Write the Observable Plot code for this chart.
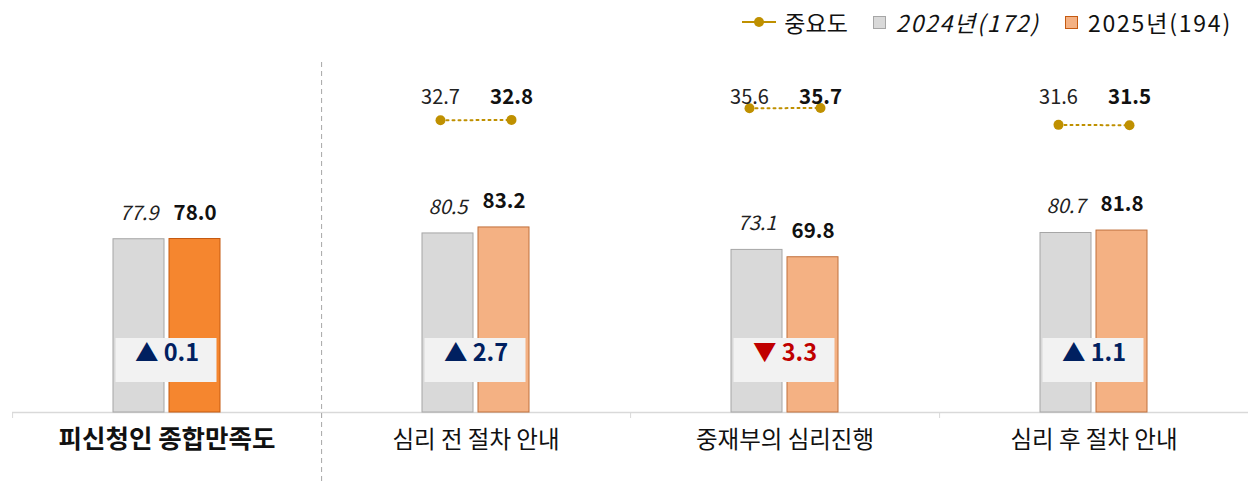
<!DOCTYPE html>
<html><head><meta charset="utf-8">
<script src="https://cdn.jsdelivr.net/npm/d3@7"></script>
<script src="https://cdn.jsdelivr.net/npm/@observablehq/plot@0.6"></script>
<style>
body{margin:0;background:#fff;font-family:"Noto Sans CJK KR","Noto Sans",sans-serif;}
#wrap{position:relative;width:1248px;height:483px;overflow:hidden;}
#legend{position:absolute;top:0;right:16px;height:44px;display:flex;align-items:center;font-size:23px;color:#111;}
.item{display:flex;align-items:center;margin-left:25px;white-space:nowrap}
.num{letter-spacing:1.8px}
.sw{width:13px;height:13px;margin-right:10px;box-sizing:border-box;border:1px solid}
#main,#over{position:absolute;left:0;top:45px;}
#over{pointer-events:none}
</style></head><body>
<div id="wrap"><div id="legend"></div><div id="main"></div><div id="over"></div></div>
<script>
const categories = ["피신청인 종합만족도","심리 전 절차 안내","중재부의 심리진행","심리 후 절차 안내"];
const series = ["2024","2025"];
const legendLabels = ["중요도","2024년(172)","2025년(194)"];
const score2024 = [77.9, 80.5, 73.1, 80.7];
const score2025 = [78.0, 83.2, 69.8, 81.8];
const importance2024 = [null, 32.7, 35.6, 31.6];
const importance2025 = [null, 32.8, 35.7, 31.5];

const FONT = '"Noto Sans CJK KR","Noto Sans",sans-serif';
const GOLD = "#bf9000";

// legend
const lg = document.getElementById("legend");
lg.innerHTML =
  `<div class="item" style="margin-left:0"><svg width="34" height="14" style="margin-right:8px"><line x1="0" x2="34" y1="7" y2="7" stroke="${GOLD}" stroke-width="2"/><circle cx="17" cy="7" r="5" fill="${GOLD}"/></svg>${legendLabels[0]}</div>` +
  `<div class="item"><span class="sw" style="background:#d9d9d9;border-color:#a6a6a6"></span><span class="num" style="font-style:italic">${legendLabels[1]}</span></div>` +
  `<div class="item"><span class="sw" style="background:#f4b183;border-color:#c55a11"></span><span class="num">${legendLabels[2]}</span></div>`;

const W = 1248, H = 438;
const bars = categories.flatMap((c, i) => [
  {cat: c, s: series[0], v: score2024[i], i},
  {cat: c, s: series[1], v: score2025[i], i}
]);
const diffs = categories.map((c, i) => ({cat: c, d: Math.round((score2025[i] - score2024[i]) * 10) / 10}));
const fillFor = d => d.s === series[0] ? "#d9d9d9" : (d.i === 0 ? "#f5862f" : "#f4b183");
const strokeFor = d => d.s === series[0] ? "#a6a6a6" : (d.i === 0 ? "#c55a11" : "#c0703c");

const main = Plot.plot({
  width: W, height: H,
  marginLeft: 12, marginRight: 0, marginTop: 0, marginBottom: 71,
  fx: {domain: categories, padding: 0, axis: null},
  x: {domain: series, paddingInner: 0.09, paddingOuter: 1.8, axis: null},
  y: {domain: [0, 165], axis: null},
  color: {type: "identity"},
  style: {fontFamily: FONT, background: "transparent", overflow: "visible"},
  marks: [
    Plot.ruleY([0], {stroke: "#d9d9d9", strokeWidth: 1.3}),
    Plot.ruleX(categories.map(c => ({cat: c, s: series[0]})), {fx: "cat", x: "s", dx: -126.4, insetTop: 367, insetBottom: -6, stroke: "#d9d9d9"}),
    Plot.ruleX([{cat: categories[0], s: series[1]}], {fx: "cat", x: "s", dx: 126.6, insetTop: 17, insetBottom: -71, stroke: "#a6a6a6", strokeDasharray: "5,4"}),
    Plot.barY(bars, {fx: "cat", x: "s", y: "v", fill: fillFor, stroke: strokeFor, strokeWidth: 1}),
    Plot.text(bars.filter(d => d.s === series[0]), {fx: "cat", x: "s", y: "v", text: d => d.v.toFixed(1), dy: -26, fontSize: 20, fontStyle: "italic", fill: "#222"}),
    Plot.text(bars.filter(d => d.s === series[1]), {fx: "cat", x: "s", y: "v", text: d => d.v.toFixed(1), dy: -26, fontSize: 20.5, fontWeight: "bold", fill: "#111"}),
    Plot.rect(diffs, {fx: "cat", insetLeft: 103.5, insetRight: 104.5, insetTop: 293, insetBottom: 30, fill: "#f2f2f2"}),
    Plot.text(diffs, {fx: "cat", frameAnchor: "bottom", dy: -52, text: d => (d.d >= 0 ? "▲ " : "▼ ") + Math.abs(d.d).toFixed(1), fill: d => d.d >= 0 ? "#002060" : "#c00000", fontSize: 23.5, fontWeight: "bold"}),
    Plot.text([categories[0]], {fx: d => d, frameAnchor: "bottom", dy: 35, text: d => d, fontSize: 25.5, fontWeight: "bold", fill: "#111"}),
    Plot.text(categories.slice(1), {fx: d => d, frameAnchor: "bottom", dy: 35, text: d => d, fontSize: 23.5, fill: "#111"})
  ]
});
document.getElementById("main").appendChild(main);

const imp = categories.flatMap((c, i) => importance2024[i] == null ? [] : [
  {cat: c, s: series[0], v: importance2024[i]},
  {cat: c, s: series[1], v: importance2025[i]}
]);
const over = Plot.plot({
  width: W, height: H,
  marginLeft: 12, marginRight: 0, marginTop: 0, marginBottom: 228,
  fx: {domain: categories, padding: 0, axis: null},
  x: {type: "point", domain: series, padding: 1.676, axis: null},
  y: {domain: [0, 50.8], axis: null},
  style: {fontFamily: FONT, background: "transparent", overflow: "visible"},
  marks: [
    Plot.line(imp, {fx: "cat", x: "s", y: "v", stroke: GOLD, strokeWidth: 2, strokeDasharray: "2,4"}),
    Plot.dot(imp, {fx: "cat", x: "s", y: "v", r: 5, fill: GOLD}),
    Plot.text(imp.filter(d => d.s === series[0]), {fx: "cat", x: "s", frameAnchor: "top", dy: 44, text: d => d.v.toFixed(1), fontSize: 20, fill: "#222"}),
    Plot.text(imp.filter(d => d.s === series[1]), {fx: "cat", x: "s", frameAnchor: "top", dy: 44, text: d => d.v.toFixed(1), fontSize: 20.5, fontWeight: "bold", fill: "#111"})
  ]
});
document.getElementById("over").appendChild(over);
</script>
</body></html>
